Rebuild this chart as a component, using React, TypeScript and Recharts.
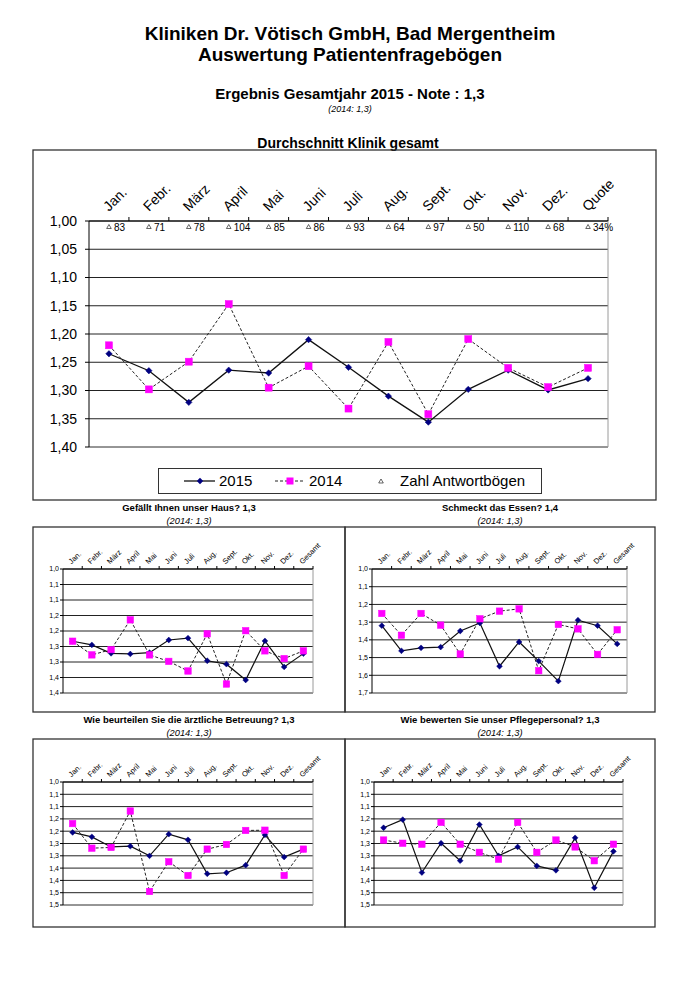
import React from "react";
import { LineChart, Line, XAxis, YAxis, CartesianGrid } from "recharts";

const FONT = "'Liberation Sans', Arial, Helvetica, sans-serif";

// ---------------- data ----------------
const months = ["Jan.", "Febr.", "März", "April", "Mai", "Juni", "Juli", "Aug.", "Sept.", "Okt.", "Nov.", "Dez."];
const mainCategories = [...months, "Quote"];
const smallCategories = [...months, "Gesamt"];

// Zahl Antwortbögen (last entry = Quote)
const antwortboegen = ["83", "71", "78", "104", "85", "86", "93", "64", "97", "50", "110", "68", "34%"];

const klinik2015 = [1.235, 1.265, 1.321, 1.264, 1.269, 1.21, 1.259, 1.31, 1.356, 1.298, 1.264, 1.299, 1.279];
const klinik2014 = [1.22, 1.298, 1.249, 1.147, 1.295, 1.257, 1.332, 1.214, 1.342, 1.209, 1.26, 1.294, 1.26];
const klinikTicks = [1.0, 1.05, 1.1, 1.15, 1.2, 1.25, 1.3, 1.35, 1.4];
const klinikTickLabels = ["1,00", "1,05", "1,10", "1,15", "1,20", "1,25", "1,30", "1,35", "1,40"];

const haus2015 = [1.233, 1.245, 1.272, 1.274, 1.27, 1.229, 1.223, 1.296, 1.307, 1.358, 1.232, 1.316, 1.273];
const haus2014 = [1.233, 1.277, 1.26, 1.164, 1.277, 1.298, 1.329, 1.209, 1.371, 1.199, 1.264, 1.289, 1.264];
const hausTicks = [1.0, 1.05, 1.1, 1.15, 1.2, 1.25, 1.3, 1.35, 1.4];
const hausTickLabels = ["1,0", "1,1", "1,1", "1,2", "1,2", "1,3", "1,3", "1,4", "1,4"];

const essen2015 = [1.32, 1.462, 1.445, 1.441, 1.35, 1.305, 1.549, 1.412, 1.52, 1.633, 1.289, 1.32, 1.423];
const essen2014 = [1.251, 1.374, 1.251, 1.317, 1.48, 1.281, 1.238, 1.225, 1.574, 1.313, 1.338, 1.482, 1.343];
const essenTicks = [1.0, 1.1, 1.2, 1.3, 1.4, 1.5, 1.6, 1.7];
const essenTickLabels = ["1,0", "1,1", "1,2", "1,3", "1,4", "1,5", "1,6", "1,7"];

const arzt2015 = [1.205, 1.223, 1.264, 1.261, 1.3, 1.212, 1.235, 1.373, 1.369, 1.338, 1.215, 1.305, 1.273];
const arzt2014 = [1.169, 1.269, 1.266, 1.118, 1.445, 1.324, 1.38, 1.273, 1.254, 1.197, 1.196, 1.38, 1.273];

const pflege2015 = [1.186, 1.153, 1.368, 1.249, 1.32, 1.173, 1.3, 1.264, 1.341, 1.359, 1.227, 1.43, 1.282];
const pflege2014 = [1.236, 1.249, 1.253, 1.164, 1.253, 1.286, 1.314, 1.164, 1.286, 1.236, 1.264, 1.32, 1.253];

const halfTicks = [1.0, 1.05, 1.1, 1.15, 1.2, 1.25, 1.3, 1.35, 1.4, 1.45, 1.5];
const halfTickLabels = ["1,0", "1,1", "1,1", "1,2", "1,2", "1,3", "1,3", "1,4", "1,4", "1,5", "1,5"];

const rows = (cats: string[], a: number[], b: number[]) =>
  cats.map((c, i) => ({ cat: c, y2015: a[i], y2014: b[i] }));

const labelFor = (ticks: number[], labels: string[]) => (v: number) => {
  const i = ticks.findIndex((t) => Math.abs(t - v) < 1e-6);
  return i >= 0 ? labels[i] : "";
};

// ---------------- markers ----------------
const NAVY = "#000080";
const MAGENTA = "#FF00FF";

const diamondDot = (r: number) => (p: any) => {
  const { cx, cy, index } = p;
  if (cx == null || cy == null) return <g key={`dd-${index}`} />;
  return (
    <polygon
      key={`dd-${index}`}
      points={`${cx},${cy - r} ${cx + r},${cy} ${cx},${cy + r} ${cx - r},${cy}`}
      fill={NAVY}
      stroke={NAVY}
      strokeWidth={0.5}
    />
  );
};

const squareDot = (s: number) => (p: any) => {
  const { cx, cy, index } = p;
  if (cx == null || cy == null) return <g key={`sq-${index}`} />;
  return <rect key={`sq-${index}`} x={cx - s / 2} y={cy - s / 2} width={s} height={s} fill={MAGENTA} stroke={MAGENTA} strokeWidth={0.5} />;
};

// ---------------- main chart ----------------
const MAIN = { left: 33, top: 150, width: 623, height: 350 };
const MAIN_MARGIN = { top: 41, right: 47, bottom: 52, left: 6 };
const MAIN_YW = 50;
const MAIN_PLOT_W = MAIN.width - MAIN_MARGIN.left - MAIN_MARGIN.right - MAIN_YW - 1;
const MAIN_BW = MAIN_PLOT_W / mainCategories.length;

const MainTick = (props: any) => {
  const { x, y, payload, index } = props;
  const bx = x + MAIN_BW / 2;
  const lx = x;
  const ly = y - 9;
  return (
    <g>
      <line x1={bx} y1={y} x2={bx} y2={y - 4} stroke="#000" />
      <text x={lx} y={ly} transform={`rotate(-45 ${lx} ${ly})`} fontSize={14} fontFamily={FONT} fill="#000" textAnchor="start">
        {payload.value}
      </text>
      <polygon points={`${x},${y + 3.5} ${x + 2.3},${y + 7.5} ${x - 2.3},${y + 7.5}`} fill="#fff" stroke="#000" strokeWidth={0.6} />
      <text x={x + 5} y={y + 9.5} fontSize={10} fontFamily={FONT} fill="#000">
        {antwortboegen[index]}
      </text>
    </g>
  );
};

function MainChart() {
  const data = rows(mainCategories, klinik2015, klinik2014);
  return (
    <div style={{ position: "absolute", left: MAIN.left, top: MAIN.top, width: MAIN.width, height: MAIN.height }}>
      <LineChart width={MAIN.width} height={MAIN.height} data={data} margin={MAIN_MARGIN}>
        <CartesianGrid vertical={false} stroke="#222" strokeWidth={1} />
        <XAxis
          dataKey="cat"
          orientation="top"
          scale="band"
          height={30}
          interval={0}
          tickSize={0}
          tickMargin={0}
          tickLine={false}
          axisLine={{ stroke: "#000" }}
          tick={<MainTick />}
        />
        <XAxis xAxisId="b" dataKey="cat" orientation="bottom" scale="band" height={1} tick={false} tickLine={false} axisLine={{ stroke: "#9a9a9a" }} />
        <YAxis
          type="number"
          domain={[1, 1.4]}
          ticks={klinikTicks}
          reversed
          interval={0}
          allowDataOverflow
          width={MAIN_YW}
          tickSize={4}
          tickMargin={8}
          tickFormatter={labelFor(klinikTicks, klinikTickLabels)}
          tick={{ fontSize: 14, fill: "#000", fontFamily: FONT }}
          tickLine={{ stroke: "#000" }}
          axisLine={{ stroke: "#000" }}
        />
        <YAxis yAxisId="r" orientation="right" type="number" domain={[1, 1.4]} reversed width={1} tick={false} tickLine={false} axisLine={{ stroke: "#9a9a9a" }} />
        <Line
          dataKey="y2015"
          stroke="#111"
          strokeWidth={1.3}
          dot={diamondDot(3.2)}
          activeDot={false}
          isAnimationActive={false}
        />
        <Line
          dataKey="y2014"
          stroke="#222"
          strokeWidth={1}
          strokeDasharray="3 2"
          dot={squareDot(7)}
          activeDot={false}
          isAnimationActive={false}
        />
      </LineChart>
    </div>
  );
}

function MainLegend() {
  return (
    <div
      style={{
        position: "absolute",
        left: 158,
        top: 468,
        width: 384,
        height: 26,
        boxSizing: "border-box",
        border: "1.3px solid #333",
        background: "#fff",
      }}
    >
      <svg width={382} height={24} style={{ position: "absolute", left: 0, top: 0 }}>
        <line x1={25} y1={12} x2={56} y2={12} stroke="#111" strokeWidth={1.3} />
        <polygon points="41,8.8 44.2,12 41,15.2 37.8,12" fill={NAVY} />
        <text x={60} y={17} fontSize={15} fontFamily={FONT} fill="#000">2015</text>
        <line x1={116} y1={12} x2={145} y2={12} stroke="#222" strokeWidth={1} strokeDasharray="3 2" />
        <rect x={127.5} y={8.5} width={7} height={7} fill={MAGENTA} />
        <text x={150} y={17} fontSize={15} fontFamily={FONT} fill="#000">2014</text>
        <polygon points="222,10 224.3,14 219.7,14" fill="#fff" stroke="#000" strokeWidth={0.6} />
        <text x={241} y={17} fontSize={15} fontFamily={FONT} fill="#000">Zahl Antwortbögen</text>
      </svg>
    </div>
  );
}

// ---------------- small charts ----------------
type Box = { left: number; top: number; width: number; height: number };

const makeSmallTick = (bw: number) => (props: any) => {
  const { x, y, payload } = props;
  const bx = x + bw / 2;
  const lx = x - 1;
  const ly = y - 4.5;
  return (
    <g>
      <line x1={bx} y1={y} x2={bx} y2={y - 3} stroke="#000" />
      <text x={lx} y={ly} transform={`rotate(-45 ${lx} ${ly})`} fontSize={7.5} fontFamily={FONT} fill="#000" textAnchor="start">
        {payload.value}
      </text>
    </g>
  );
};

function SmallChart(props: {
  box: Box;
  margin: { top: number; right: number; bottom: number; left: number };
  a: number[];
  b: number[];
  ticks: number[];
  labels: string[];
  domain: [number, number];
}) {
  const { box, margin, a, b, ticks, labels, domain } = props;
  const data = rows(smallCategories, a, b);
  const yw = 25;
  const plotW = box.width - margin.left - margin.right - yw - 1;
  const bw = plotW / smallCategories.length;
  const Tick = makeSmallTick(bw);
  return (
    <div style={{ position: "absolute", left: box.left, top: box.top, width: box.width, height: box.height }}>
      <LineChart width={box.width} height={box.height} data={data} margin={margin}>
        <CartesianGrid vertical={false} stroke="#222" strokeWidth={1} />
        <XAxis
          dataKey="cat"
          orientation="top"
          scale="band"
          height={30}
          interval={0}
          tickSize={0}
          tickMargin={0}
          tickLine={false}
          axisLine={{ stroke: "#000" }}
          tick={<Tick />}
        />
        <XAxis xAxisId="b" dataKey="cat" orientation="bottom" scale="band" height={1} tick={false} tickLine={false} axisLine={{ stroke: "#9a9a9a" }} />
        <YAxis
          type="number"
          domain={domain}
          ticks={ticks}
          reversed
          interval={0}
          allowDataOverflow
          width={yw}
          tickSize={3}
          tickMargin={1}
          tickFormatter={labelFor(ticks, labels)}
          tick={{ fontSize: 7, fill: "#000", fontFamily: FONT }}
          tickLine={{ stroke: "#000" }}
          axisLine={{ stroke: "#000" }}
        />
        <YAxis yAxisId="r" orientation="right" type="number" domain={domain} reversed width={1} tick={false} tickLine={false} axisLine={{ stroke: "#9a9a9a" }} />
        <Line dataKey="y2015" stroke="#111" strokeWidth={1.2} dot={diamondDot(2.9)} activeDot={false} isAnimationActive={false} />
        <Line
          dataKey="y2014"
          stroke="#222"
          strokeWidth={1}
          strokeDasharray="3 2"
          dot={squareDot(6.5)}
          activeDot={false}
          isAnimationActive={false}
        />
      </LineChart>
    </div>
  );
}

const panels = [
  {
    key: "haus",
    title: "Gefällt Ihnen unser Haus? 1,3",
    sub: "(2014: 1,3)",
    box: { left: 33, top: 527, width: 312, height: 185 },
    margin: { top: 12, right: 31, bottom: 18, left: 5 },
    a: haus2015,
    b: haus2014,
    ticks: hausTicks,
    labels: hausTickLabels,
    domain: [1, 1.4] as [number, number],
  },
  {
    key: "essen",
    title: "Schmeckt das Essen? 1,4",
    sub: "(2014: 1,3)",
    box: { left: 345, top: 527, width: 310, height: 185 },
    margin: { top: 12, right: 27, bottom: 18, left: 2 },
    a: essen2015,
    b: essen2014,
    ticks: essenTicks,
    labels: essenTickLabels,
    domain: [1, 1.7] as [number, number],
  },
  {
    key: "arzt",
    title: "Wie beurteilen Sie die ärztliche Betreuung? 1,3",
    sub: "(2014: 1,3)",
    box: { left: 33, top: 739, width: 312, height: 188 },
    margin: { top: 13, right: 31, bottom: 21, left: 5 },
    a: arzt2015,
    b: arzt2014,
    ticks: halfTicks,
    labels: halfTickLabels,
    domain: [1, 1.5] as [number, number],
  },
  {
    key: "pflege",
    title: "Wie bewerten Sie unser Pflegepersonal? 1,3",
    sub: "(2014: 1,3)",
    box: { left: 345, top: 739, width: 310, height: 188 },
    margin: { top: 13, right: 31, bottom: 21, left: 4 },
    a: pflege2015,
    b: pflege2014,
    ticks: halfTicks,
    labels: halfTickLabels,
    domain: [1, 1.5] as [number, number],
  },
];

export default function App() {
  return (
    <div style={{ position: "absolute", left: 0, top: 0, width: 700, height: 990, background: "#fff", fontFamily: FONT }}>
      <svg width={700} height={990} style={{ position: "absolute", left: 0, top: 0 }}>
        <g fontFamily={FONT} fill="#000" textAnchor="middle">
          <text x={350} y={39.5} fontSize={19} fontWeight="bold">Kliniken Dr. Vötisch GmbH, Bad Mergentheim</text>
          <text x={350} y={61} fontSize={19} fontWeight="bold">Auswertung Patientenfragebögen</text>
          <text x={350} y={99} fontSize={15} fontWeight="bold">Ergebnis Gesamtjahr 2015 - Note : 1,3</text>
          <text x={350} y={112} fontSize={9} fontStyle="italic">(2014: 1,3)</text>
          <text x={348} y={147.5} fontSize={14} fontWeight="bold">Durchschnitt Klinik gesamt</text>
          {panels.map((p) => {
            const cx = p.box.left + p.box.width / 2;
            const ty = p.box.top - 16;
            return (
              <g key={p.key}>
                <text x={cx} y={ty} fontSize={9.5} fontWeight="bold">{p.title}</text>
                <text x={cx} y={ty + 13} fontSize={9.3} fontStyle="italic">{p.sub}</text>
              </g>
            );
          })}
        </g>
        <rect x={33} y={150} width={623} height={350} fill="none" stroke="#333" strokeWidth={1.3} />
        {panels.map((p) => (
          <rect key={p.key} x={p.box.left} y={p.box.top} width={p.box.width} height={p.box.height} fill="none" stroke="#333" strokeWidth={1.3} />
        ))}
      </svg>
      <MainChart />
      <MainLegend />
      {panels.map((p) => (
        <SmallChart key={p.key} box={p.box} margin={p.margin} a={p.a} b={p.b} ticks={p.ticks} labels={p.labels} domain={p.domain} />
      ))}
    </div>
  );
}
